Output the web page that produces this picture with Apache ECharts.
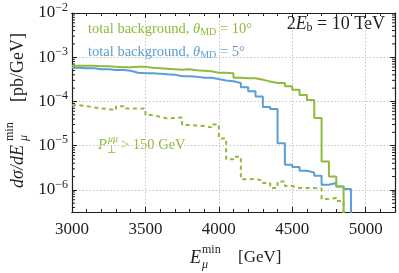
<!DOCTYPE html>
<html><head><meta charset="utf-8">
<script src="https://cdn.jsdelivr.net/npm/echarts@6/dist/echarts.min.js"></script>
<style>html,body{margin:0;padding:0;background:#fff}#c{width:399px;height:273px}</style>
</head><body><div id="c"></div>
<script>
// Bin left edges (GeV), 50 GeV bins
const binEdges = [3000,3050,3100,3150,3200,3250,3300,3350,3400,3450,3500,3550,3600,3650,3700,3750,3800,3850,3900,3950,
                  4000,4050,4100,4150,4200,4250,4300,4350,4400,4450,4500,4550,4600,4650,4700,4750,4800,4850,4900];
// total background, theta_MD = 10 deg (pb/GeV)
const bgTheta10 = [6.44e-4,6.44e-4,6.40e-4,6.27e-4,6.27e-4,6.10e-4,5.95e-4,5.95e-4,6.10e-4,6.05e-4,
                   5.80e-4,5.65e-4,5.51e-4,5.37e-4,5.23e-4,5.37e-4,5.09e-4,4.97e-4,4.84e-4,4.47e-4,
                   4.47e-4,4.36e-4,3.45e-4,3.36e-4,3.36e-4,3.11e-4,2.81e-4,2.60e-4,2.60e-4,2.22e-4,
                   1.85e-4,1.39e-4,1.08e-4,4.23e-5,4.39e-6,2.01e-6,1.20e-6];
// total background, theta_MD = 5 deg (pb/GeV)
const bgTheta5 = [5.81e-4,5.65e-4,5.65e-4,5.37e-4,5.37e-4,5.15e-4,5.15e-4,4.96e-4,4.47e-4,4.36e-4,
                  4.36e-4,4.25e-4,4.14e-4,4.04e-4,3.73e-4,3.73e-4,3.64e-4,3.42e-4,3.42e-4,3.20e-4,
                  2.96e-4,2.85e-4,2.60e-4,2.10e-4,1.70e-4,1.30e-4,7.50e-5,6.75e-5,1.14e-5,3.70e-6,
                  3.28e-6,2.71e-6,2.48e-6,2.09e-6,1.31e-6,1.43e-6,1.20e-6,1.05e-6];
// P_T^mumu > 150 GeV (pb/GeV)
const ptCut = [8.25e-5,7.83e-5,7.32e-5,6.95e-5,6.70e-5,6.36e-5,7.83e-5,6.95e-5,6.95e-5,6.95e-5,
               4.91e-5,4.49e-5,4.13e-5,4.20e-5,4.35e-5,2.92e-5,2.84e-5,2.77e-5,2.59e-5,3.03e-5,
               1.46e-5,4.91e-6,5.62e-6,1.73e-6,1.76e-6,1.63e-6,1.43e-6,1.10e-6,1.55e-6,1.22e-6,
               1.10e-6,1.10e-6,1.10e-6,1.08e-6,6.24e-7,6.57e-7,5.60e-7];
const xTickLabels = [3000,3500,4000,4500,5000];
const xMin = 3000, xMax = 5200;
const yMin = Math.pow(10,-6.5), yMax = 1e-2;
const dropValue = 1e-9; // histogram falls to zero beyond the last bin

const GREEN = '#8fba3c', BLUE = '#5a9fd4', INK = '#1e1e1e';
const FONT = 'Liberation Serif';

function histo(vals){
  const d = vals.map((v,i)=>[binEdges[i], v]);
  d.push([binEdges[vals.length], dropValue]);
  return d;
}
const minorYTicks = [];
for (let k=-7;k<=-3;k++){ for (let m=2;m<=9;m++){ const v=m*Math.pow(10,k); if (v>yMin && v<yMax) minorYTicks.push([xMin, v]); } }

const chart = echarts.init(document.getElementById('c'), null, {renderer:'canvas'});
const axLine = {show:true, onZero:false, lineStyle:{color:INK, width:1.2}};
const grid = {left:72, right:4, top:13, bottom:61};
const mkX = (pos, interval, len, labels, split) => ({
  type:'value', position:pos, min:xMin, max:xMax, interval:interval,
  axisLine: axLine,
  axisTick:{show:true, inside:true, length:len, lineStyle:{color:INK, width:1}},
  axisLabel: labels ? {show:true, margin:9, fontFamily:FONT, fontSize:17, color:INK, showMaxLabel:false,
     formatter: v => xTickLabels.includes(v) ? String(v) : ''} : {show:false},
  splitLine:{show:split, lineStyle:{color:'#c4c4c4', type:[1.5,2], width:1}}
});
const mkY = (pos, labels, split) => ({
  type:'log', logBase:10, position:pos, min:yMin, max:yMax,
  axisLine: axLine,
  axisTick:{show:true, inside:true, length:5, lineStyle:{color:INK, width:1}},
  axisLabel: labels ? {show:true, margin:4, color:INK, showMinLabel:false,
     formatter: v => { const l=Math.log10(v), e=Math.round(l); if (Math.abs(l-e)>1e-6) return ''; return '{b|10}{s|\u2212'+(-e)+'}'; },
     rich:{ b:{fontFamily:FONT, fontSize:17, color:INK}, s:{fontFamily:FONT, fontSize:12, color:INK, padding:[0,0,11,0]} } } : {show:false},
  splitLine:{show:split, lineStyle:{color:'#c4c4c4', type:[1.5,2], width:1}}
});

const option = {
  animation:false,
  grid: grid,
  xAxis:[ mkX('bottom',500,5,true,true), mkX('bottom',100,3,false,false), mkX('top',500,5,false,false), mkX('top',100,3,false,false) ],
  yAxis:[ mkY('left',true,true), mkY('right',false,false) ],
  series:[
    {type:'custom', silent:true, xAxisIndex:0, yAxisIndex:0, data:minorYTicks, encode:{x:0,y:1},
     renderItem:(params, api) => {
       const cs = params.coordSys; const y = api.coord([api.value(0), api.value(1)])[1];
       return {type:'group', children:[
         {type:'line', shape:{x1:cs.x, y1:y, x2:cs.x+3, y2:y}, style:{stroke:INK, lineWidth:1}},
         {type:'line', shape:{x1:cs.x+cs.width-3, y1:y, x2:cs.x+cs.width, y2:y}, style:{stroke:INK, lineWidth:1}}
       ]};
     }},
    {type:'line', name:'theta5', step:'end', showSymbol:false, data:histo(bgTheta5), lineStyle:{color:BLUE, width:2}, itemStyle:{color:BLUE}},
    {type:'line', name:'theta10', step:'end', showSymbol:false, data:histo(bgTheta10), lineStyle:{color:GREEN, width:2}, itemStyle:{color:GREEN}},
    {type:'line', name:'ptcut', step:'end', showSymbol:false, data:histo(ptCut), lineStyle:{color:GREEN, width:2, type:[4,3.5]}, itemStyle:{color:GREEN}}
  ],
  graphic:[
    {type:'text', x:88, y:29, style:{text:'{t|total background, }{i|θ}{s|MD}{t| = 10°}', fill:GREEN, verticalAlign:'middle',
      rich:{t:{fontFamily:FONT,fontSize:14.5,fill:GREEN}, i:{fontFamily:FONT,fontStyle:'italic',fontSize:14.5,fill:GREEN}, s:{fontFamily:FONT,fontSize:10,fill:GREEN,padding:[7,0,0,0]}}}},
    {type:'text', x:88, y:52, style:{text:'{t|total background, }{i|θ}{s|MD}{t| = 5°}', fill:BLUE, verticalAlign:'middle',
      rich:{t:{fontFamily:FONT,fontSize:14.5,fill:BLUE}, i:{fontFamily:FONT,fontStyle:'italic',fontSize:14.5,fill:BLUE}, s:{fontFamily:FONT,fontSize:10,fill:BLUE,padding:[7,0,0,0]}}}},
    {type:'text', x:385, y:24, style:{text:'{t|2}{i|E}{s|b}{t| = 10 TeV}', fill:INK, align:'right', verticalAlign:'middle',
      rich:{t:{fontFamily:FONT,fontSize:18,fill:INK}, i:{fontFamily:FONT,fontStyle:'italic',fontSize:18,fill:INK}, s:{fontFamily:FONT,fontSize:12,fill:INK,padding:[8,0,0,0]}}}},
    // P_perp^mumu > 150 GeV
    {type:'text', x:98, y:145, style:{text:'P', fill:GREEN, font:'italic 14.5px "Liberation Serif"', verticalAlign:'middle'}},
    {type:'text', x:108, y:139, style:{text:'μμ', fill:GREEN, font:'italic 10px "Liberation Serif"', verticalAlign:'middle'}},
    {type:'text', x:107, y:150, style:{text:'⊥', fill:GREEN, font:'10px "DejaVu Serif"', verticalAlign:'middle'}},
    {type:'text', x:121, y:145, style:{text:'> 150 GeV', fill:GREEN, font:'14.5px "Liberation Serif"', verticalAlign:'middle'}},
    // x-axis title
    {type:'text', x:190, y:258, style:{text:'E', fill:INK, font:'italic 18px "Liberation Serif"', verticalAlign:'middle'}},
    {type:'text', x:202, y:250, style:{text:'min', fill:INK, font:'12px "Liberation Serif"', verticalAlign:'middle'}},
    {type:'text', x:202, y:265, style:{text:'μ', fill:INK, font:'italic 12px "Liberation Serif"', verticalAlign:'middle'}},
    {type:'text', x:238, y:258, style:{text:'[GeV]', fill:INK, font:'17px "Liberation Serif"', verticalAlign:'middle'}},
    // y-axis title (rotated)
    {type:'group', x:18, y:188, rotation:Math.PI/2, children:[
      {type:'text', x:0, y:0, style:{text:'dσ/dE', fill:INK, font:'italic 18px "Liberation Serif"', verticalAlign:'middle'}},
      {type:'text', x:47, y:-8, style:{text:'min', fill:INK, font:'12px "Liberation Serif"', verticalAlign:'middle'}},
      {type:'text', x:47, y:6, style:{text:'μ', fill:INK, font:'italic 12px "Liberation Serif"', verticalAlign:'middle'}},
      {type:'text', x:155, y:0, style:{text:'[pb/GeV]', fill:INK, font:'18px "Liberation Serif"', align:'right', verticalAlign:'middle'}}
    ]}
  ]
};
chart.setOption(option);
</script></body></html>
